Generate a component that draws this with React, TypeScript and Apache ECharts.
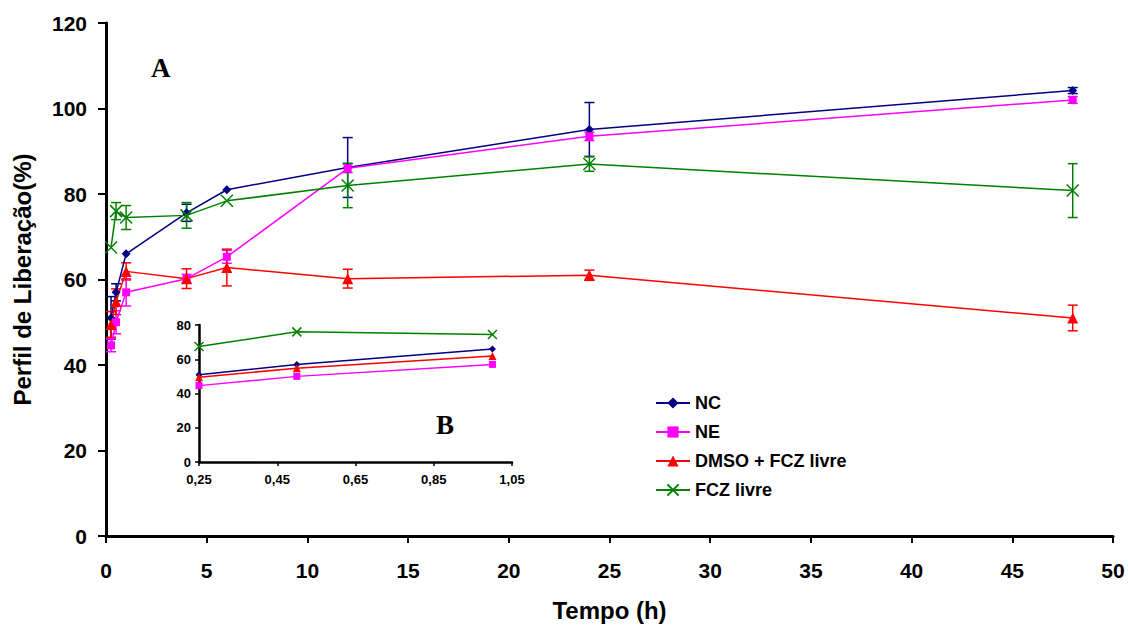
import React, { useEffect, useRef } from "react";
import * as echarts from "echarts";

const times = [0.25, 0.5, 1, 4, 6, 12, 24, 48];
const seriesNames = ["NC", "NE", "DMSO + FCZ livre", "FCZ livre"];
const nc = [51, 57, 66, 75.6, 81, 86.2, 95.1, 104.2];
const ncErr = [5, 2, 0, 2, 0, 7, 6.3, 0.7];
const ne = [44.6, 50, 57, 60.2, 65.3, 86, 93.5, 102];
const neErr = [1.5, 2.7, 3.2, 1, 1.5, 1, 1, 0.8];
const dmso = [49.5, 54.8, 61.9, 60.2, 62.8, 60.2, 61, 51];
const dmsoErr = [3, 3, 2, 2.3, 4.3, 2.2, 1.2, 3];
const fcz = [67.5, 76, 74.5, 75, 78.4, 82, 87, 80.8];
const fczErr = [0, 2, 2.8, 3, 0, 5.2, 1.7, 6.3];
const insetCount = 3; // first three time points in inset B
const mainXTicks = { min: 0, max: 50, interval: 5 };
const mainYTicks = { min: 0, max: 120, interval: 20 };
const insetXTicks = { min: 0.25, max: 1.05, interval: 0.2 };
const insetYTicks = { min: 0, max: 80, interval: 20 };

const colors = ["#000080", "#FF00FF", "#FF0000", "#008000"];
const XSYM = "path://M0,0L10,10M10,0L0,10";
const symbols = ["diamond", "rect", "triangle", XSYM];
const mainSizes = [9, 8, 11, 12];
const insetSizes = [7, 7, 8, 9];

const FONT = "Liberation Sans, Arial, sans-serif";

export default function App() {
  const ref = useRef<HTMLDivElement>(null);
  useEffect(() => {
    if (!ref.current) return;
    const chart = echarts.init(ref.current, null, { renderer: "svg" });
    const values = [nc, ne, dmso, fcz];
    const errs = [ncErr, neErr, dmsoErr, fczErr];

    const symStyle = (i: number) =>
      i === 3
        ? { color: colors[i], borderColor: colors[i], borderWidth: 1.5 }
        : { color: colors[i], borderColor: colors[i], borderWidth: 0 };

    const mainSeries: any[] = values.map((v, i) => ({
      name: seriesNames[i],
      type: "line",
      xAxisIndex: 0,
      yAxisIndex: 0,
      data: times.map((t, k) => [t, v[k]]),
      symbol: symbols[i],
      symbolSize: mainSizes[i],
      showAllSymbol: true,
      lineStyle: { color: colors[i], width: 1.5 },
      itemStyle: symStyle(i),
      z: 3,
    }));

    const errSeries: any[] = values.map((v, i) => ({
      name: seriesNames[i] + " err",
      type: "custom",
      xAxisIndex: 0,
      yAxisIndex: 0,
      encode: { x: 0, y: 1 },
      data: times
        .map((t, k) => [t, v[k], errs[i][k]])
        .filter((d) => d[2] > 0),
      renderItem: (params: any, api: any) => {
        const x = api.value(0);
        const y = api.value(1);
        const e = api.value(2);
        const top = api.coord([x, y + e]);
        const bot = api.coord([x, y - e]);
        const w = 5;
        const style = { stroke: colors[i], lineWidth: 1.5 };
        return {
          type: "group",
          children: [
            { type: "line", shape: { x1: top[0], y1: top[1], x2: bot[0], y2: bot[1] }, style },
            { type: "line", shape: { x1: top[0] - w, y1: top[1], x2: top[0] + w, y2: top[1] }, style },
            { type: "line", shape: { x1: bot[0] - w, y1: bot[1], x2: bot[0] + w, y2: bot[1] }, style },
          ],
        };
      },
      z: 2,
    }));

    const insetSeries: any[] = values.map((v, i) => ({
      name: seriesNames[i],
      type: "line",
      xAxisIndex: 1,
      yAxisIndex: 1,
      // inset x-axis counts from 0.25: shift so ticks align with the interval
      data: times.slice(0, insetCount).map((t, k) => [t - insetXTicks.min, v[k]]),
      symbol: symbols[i],
      symbolSize: insetSizes[i],
      lineStyle: { color: colors[i], width: 1.5 },
      itemStyle: symStyle(i),
      z: 3,
    }));

    const axisLabelBig = { color: "#000", fontFamily: FONT, fontWeight: "bold", fontSize: 21 };
    const axisLabelSmall = { color: "#000", fontFamily: FONT, fontWeight: "bold", fontSize: 13 };
    const nameStyle = { color: "#000", fontFamily: FONT, fontWeight: "bold", fontSize: 24 };

    chart.setOption({
      animation: false,
      backgroundColor: "#fff",
      grid: [
        { left: 106, right: 15, top: 23, bottom: 89 },
        { left: 199, right: 616, top: 325, bottom: 165 },
      ],
      legend: {
        data: seriesNames,
        orient: "vertical",
        left: 650,
        top: 389,
        itemWidth: 34,
        itemHeight: 14,
        itemGap: 11,
        textStyle: { color: "#000", fontFamily: FONT, fontWeight: "bold", fontSize: 18 },
      },
      xAxis: [
        {
          type: "value",
          gridIndex: 0,
          min: mainXTicks.min,
          max: mainXTicks.max,
          interval: mainXTicks.interval,
          name: "Tempo (h)",
          nameLocation: "middle",
          nameGap: 62,
          nameTextStyle: nameStyle,
          axisLine: { lineStyle: { color: "#000", width: 3 } },
          axisTick: { length: 7, lineStyle: { color: "#000", width: 2 } },
          axisLabel: { ...axisLabelBig, margin: 24 },
          splitLine: { show: false },
        },
        {
          type: "value",
          gridIndex: 1,
          min: 0,
          max: insetXTicks.max - insetXTicks.min,
          interval: insetXTicks.interval,
          axisLine: { lineStyle: { color: "#000", width: 2.5 } },
          axisTick: { length: 4, lineStyle: { color: "#000", width: 1.5 } },
          axisLabel: {
            ...axisLabelSmall,
            margin: 11,
            formatter: (v: number) => (v + insetXTicks.min).toFixed(2).replace(".", ","),
          },
          splitLine: { show: false },
        },
      ],
      yAxis: [
        {
          type: "value",
          gridIndex: 0,
          min: mainYTicks.min,
          max: mainYTicks.max,
          interval: mainYTicks.interval,
          name: "Perfil de Liberação(%)",
          nameLocation: "middle",
          nameGap: 72,
          nameTextStyle: nameStyle,
          axisLine: { show: true, lineStyle: { color: "#000", width: 3 } },
          axisTick: { show: true, length: 8, lineStyle: { color: "#000", width: 2 } },
          axisLabel: { ...axisLabelBig, margin: 19 },
          splitLine: { show: false },
        },
        {
          type: "value",
          gridIndex: 1,
          min: insetYTicks.min,
          max: insetYTicks.max,
          interval: insetYTicks.interval,
          axisLine: { show: true, lineStyle: { color: "#000", width: 2.5 } },
          axisTick: { show: true, length: 4, lineStyle: { color: "#000", width: 1.5 } },
          axisLabel: { ...axisLabelSmall, margin: 8 },
          splitLine: { show: false },
        },
      ],
      graphic: [
        {
          type: "text",
          left: 151,
          top: 54,
          style: { text: "A", fill: "#000", font: 'bold 27px "Liberation Serif", serif' },
        },
        {
          type: "text",
          left: 436,
          top: 411,
          style: { text: "B", fill: "#000", font: 'bold 27px "Liberation Serif", serif' },
        },
      ],
      series: [...errSeries, ...mainSeries, ...insetSeries],
    });
    return () => chart.dispose();
  }, []);
  return <div ref={ref} style={{ width: 1128, height: 627, position: "absolute", left: 0, top: 0 }} />;
}
